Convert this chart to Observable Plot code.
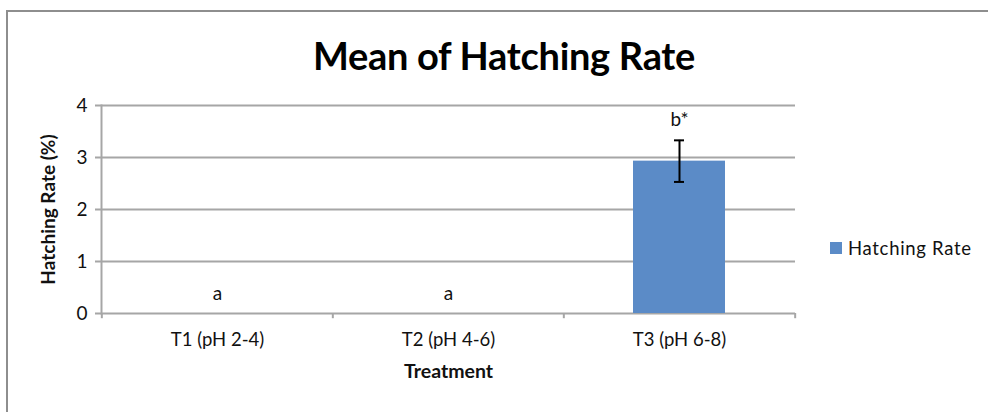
<!DOCTYPE html>
<html>
<head>
<meta charset="utf-8">
<script src="https://cdn.jsdelivr.net/npm/d3@7"></script>
<script src="https://cdn.jsdelivr.net/npm/@observablehq/plot@0.6"></script>
<style>
  html, body { margin: 0; padding: 0; background: #fff; }
  body { width: 988px; height: 412px; position: relative; overflow: hidden; font-family: Lato, "Open Sans", sans-serif; }
  #frame { position: absolute; left: 6px; top: 10px; width: 990px; height: 420px; border-top: 2px solid #8e8e8e; border-left: 2px solid #8e8e8e; box-sizing: border-box; }
  #chart { position: absolute; left: 0; top: 0; }
  #title { position: absolute; left: 0; width: 1008px; top: 31px; text-align: center; font-weight: bold; font-size: 38px; color: #000; line-height: 48px; letter-spacing: -0.3px; }
  #legend { position: absolute; left: 830px; top: 237px; display: flex; align-items: center; font-size: 18.5px; color: #111; letter-spacing: 0.7px; }
  #legend .sw { width: 12px; height: 12px; margin-right: 6px; }
</style>
</head>
<body>
<div id="frame"></div>
<div id="chart"></div>
<div id="title">Mean of Hatching Rate</div>
<div id="legend"><span class="sw"></span><span id="legtext"></span></div>
<script>
const categories = ["T1 (pH 2-4)", "T2 (pH 4-6)", "T3 (pH 6-8)"];
const means = [0, 0, 2.93];
const errors = [0, 0, 0.40];
const letters = ["a", "a", "b*"];
const yTicks = [0, 1, 2, 3, 4];
const seriesName = "Hatching Rate";
const barColor = "#5B8BC7";
const gridColor = "#a6a6a6";

const data = categories.map((c, i) => ({c, m: means[i], e: errors[i], l: letters[i]}));
const dataErr = data.filter(d => d.e > 0);

document.querySelector("#legend .sw").style.background = barColor;
document.getElementById("legtext").textContent = seriesName;

const W = 988, H = 412, mL = 101, mR = 193, mT = 105, mB = 99;
const step = (W - mL - mR) / categories.length;

const chart = Plot.plot({
  width: W, height: H,
  marginLeft: mL, marginRight: mR, marginTop: mT, marginBottom: mB,
  style: { fontFamily: "Lato, 'Open Sans', sans-serif", fontSize: "18px", background: "transparent", overflow: "visible" },
  x: { domain: categories, paddingInner: 0.6, paddingOuter: 0.3, label: null },
  y: { domain: [0, 4], ticks: yTicks, label: null },
  marks: [
    Plot.ruleY(yTicks, { y: d => d, stroke: gridColor, strokeWidth: 2, insetLeft: -6 }),
    Plot.frame({ anchor: "left", stroke: gridColor, strokeWidth: 2 }),
    Plot.barY(data, { x: "c", y: "m", fill: barColor }),
    Plot.ruleX(categories, { x: d => d, y1: 0, y2: -0.1, dx: -step / 2, stroke: gridColor, strokeWidth: 2 }),
    Plot.ruleX([categories[categories.length - 1]], { x: d => d, y1: 0, y2: -0.1, dx: step / 2, stroke: gridColor, strokeWidth: 2 }),
    Plot.ruleX(dataErr, { x: "c", y1: d => d.m - d.e, y2: d => d.m + d.e, stroke: "#000", strokeWidth: 2 }),
    Plot.tickY(dataErr, { x: "c", y: d => d.m - d.e, stroke: "#000", strokeWidth: 2, insetLeft: 41, insetRight: 41 }),
    Plot.tickY(dataErr, { x: "c", y: d => d.m + d.e, stroke: "#000", strokeWidth: 2, insetLeft: 41, insetRight: 41 }),
    Plot.text(data, { x: "c", y: d => d.m + d.e, text: "l", dy: -20, fontSize: 19, fill: "#111" }),
    Plot.axisY({ ticks: yTicks, tickFormat: d3.format("d"), tickSize: 0, tickPadding: 14, fontSize: 19, fill: "#111", label: null }),
    Plot.axisX({ tickSize: 0, tickPadding: 19, fontSize: 18.5, fill: "#111", label: null }),
    Plot.text([`Treatment`], { frameAnchor: "bottom", dy: 64, fontWeight: "bold", fontSize: 19.5, fill: "#111", letterSpacing: "0.4px" }),
    Plot.text([`Hatching Rate (%)`], { frameAnchor: "left", textAnchor: "middle", dx: -53, rotate: -90, fontWeight: "bold", fontSize: 19, fill: "#111" })
  ]
});
document.getElementById("chart").appendChild(chart);
</script>
</body>
</html>
